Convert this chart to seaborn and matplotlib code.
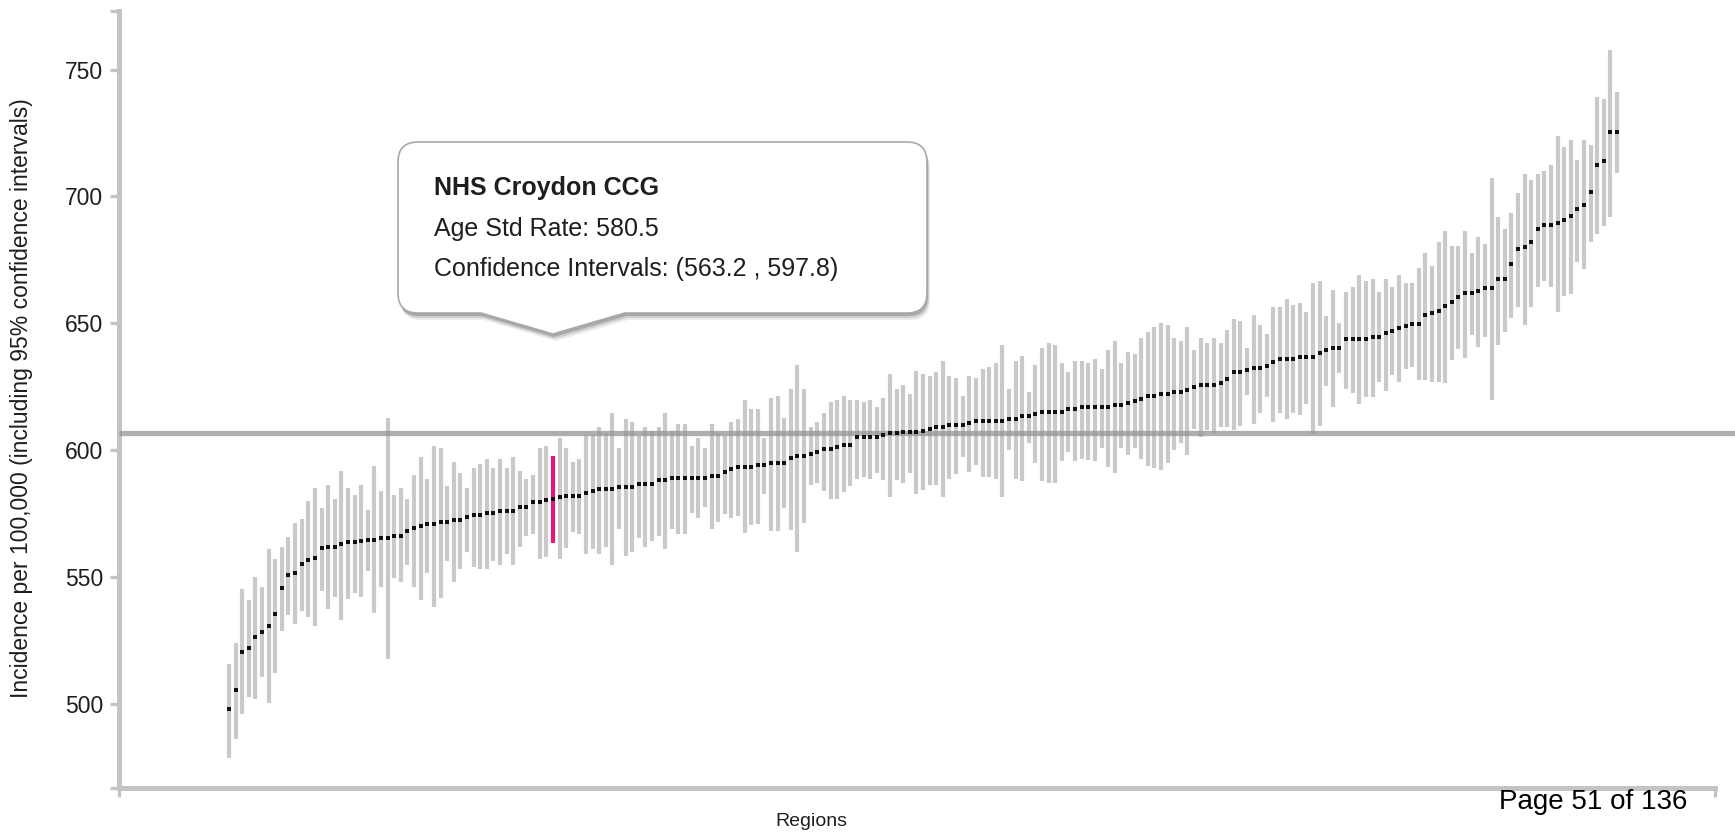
import numpy as np
import pandas as pd
import matplotlib
matplotlib.use("Agg")
import matplotlib.pyplot as plt
import seaborn as sns
from matplotlib.path import Path
from matplotlib.patches import PathPatch

# ---------------- data ----------------
rate = [497.7, 505.5, 520.2, 522.0, 526.4, 528.2, 530.7, 535.2, 545.4, 550.6,
        551.3, 555.0, 556.6, 557.5, 561.2, 561.9, 561.9, 562.9, 563.7, 563.7,
        564.2, 564.5, 564.5, 565.3, 565.3, 566.2, 566.1, 568.1, 569.1, 570.0,
        570.8, 570.8, 571.6, 571.6, 572.5, 572.5, 573.4, 574.3, 574.3, 575.0,
        575.0, 575.9, 575.9, 575.9, 577.6, 577.6, 579.3, 579.3, 580.2, 580.5,
        581.3, 581.9, 581.9, 581.9, 582.9, 583.8, 584.6, 584.6, 584.6, 585.5,
        585.5, 585.5, 586.4, 586.4, 586.4, 588.1, 588.1, 589.1, 589.1, 589.1,
        589.1, 589.1, 589.1, 589.9, 589.9, 591.4, 592.4, 593.4, 593.4, 593.4,
        594.2, 594.2, 595.0, 595.0, 595.0, 596.7, 597.6, 597.6, 598.4, 599.3,
        600.2, 600.2, 601.0, 601.9, 601.9, 605.0, 605.0, 605.0, 605.0, 605.8,
        606.5, 606.5, 607.2, 607.2, 607.2, 607.3, 608.1, 608.9, 608.9, 609.8,
        609.8, 609.8, 610.7, 611.5, 611.5, 611.5, 611.5, 611.5, 612.4, 612.4,
        613.4, 613.4, 614.2, 615.1, 615.1, 615.1, 615.1, 616.0, 616.0, 616.8,
        616.8, 616.8, 616.8, 616.8, 617.6, 617.6, 618.5, 619.4, 620.2, 621.1,
        621.1, 622.0, 622.0, 622.8, 622.8, 623.7, 624.7, 625.6, 625.6, 625.6,
        626.5, 628.1, 630.7, 630.7, 631.5, 632.4, 632.4, 633.2, 634.7, 635.7,
        635.7, 635.7, 636.5, 636.5, 636.5, 638.3, 639.4, 640.2, 640.2, 643.6,
        643.6, 643.6, 643.6, 644.4, 644.4, 646.2, 647.0, 647.9, 648.9, 649.6,
        649.6, 653.3, 654.1, 654.9, 656.6, 658.4, 660.2, 662.0, 662.0, 662.8,
        663.7, 663.7, 667.3, 667.3, 673.3, 679.3, 680.1, 682.0, 687.0, 688.8,
        688.8, 689.6, 690.6, 692.4, 694.9, 696.7, 701.8, 712.3, 714.0, 725.3,
        725.3]
lower = [478.4, 485.9, 495.7, 502.7, 501.6, 510.6, 500.1, 512.2, 528.7, 534.9,
         531.2, 536.6, 534.0, 530.5, 544.4, 537.4, 542.1, 532.9, 541.1, 543.5,
         541.9, 552.1, 535.7, 546.1, 517.4, 549.5, 547.9, 554.7, 545.8, 540.8,
         551.3, 538.2, 541.6, 556.3, 547.9, 552.9, 559.7, 553.7, 552.9, 552.9,
         556.3, 554.7, 558.9, 554.7, 561.6, 566.1, 566.8, 557.2, 557.9, 563.2,
         557.2, 561.2, 567.8, 566.8, 559.0, 560.8, 559.0, 561.9, 554.8, 568.7,
         558.2, 559.9, 565.1, 561.6, 564.2, 566.1, 560.8, 568.7, 566.8, 566.8,
         575.3, 573.0, 577.4, 568.7, 571.7, 574.7, 573.0, 574.0, 567.1, 570.3,
         571.0, 582.5, 567.9, 567.9, 577.2, 568.4, 559.9, 571.3, 586.0, 586.9,
         584.0, 580.6, 580.6, 583.3, 585.8, 588.7, 589.5, 588.7, 591.0, 588.0,
         581.6, 588.0, 587.0, 591.0, 582.5, 584.2, 586.0, 586.0, 581.6, 588.7,
         590.5, 597.3, 591.3, 593.9, 589.4, 589.4, 588.7, 581.6, 599.9, 588.7,
         587.9, 602.6, 594.7, 587.9, 587.1, 587.1, 595.5, 599.2, 595.5, 596.6,
         596.0, 595.5, 600.7, 593.1, 591.0, 600.7, 598.1, 600.7, 596.3, 593.7,
         592.9, 592.1, 594.7, 600.0, 602.6, 598.1, 608.4, 605.2, 607.8, 606.8,
         609.1, 609.0, 608.0, 609.4, 621.5, 610.2, 614.7, 620.7, 611.1, 614.7,
         612.1, 614.7, 613.8, 618.1, 606.3, 609.4, 625.2, 617.0, 630.2, 624.2,
         622.3, 618.1, 620.7, 620.7, 626.8, 623.4, 629.4, 626.8, 632.0, 632.8,
         627.6, 627.6, 626.8, 626.8, 626.3, 635.4, 640.0, 636.1, 645.3, 640.7,
         644.4, 619.9, 641.4, 646.6, 651.9, 656.2, 649.3, 656.5, 664.1, 666.7,
         664.1, 654.5, 660.7, 661.5, 674.3, 671.2, 682.2, 685.1, 688.3, 691.9,
         709.3]
upper = [515.5, 524.0, 545.0, 540.8, 550.0, 545.8, 560.8, 557.1, 561.6, 565.8,
         571.1, 572.9, 579.7, 585.0, 577.1, 586.0, 580.5, 591.8, 585.0, 582.4,
         586.0, 576.3, 593.7, 583.9, 612.7, 582.4, 585.0, 580.8, 590.1, 597.1,
         588.4, 601.4, 600.6, 585.9, 595.3, 591.0, 585.0, 592.7, 594.4, 596.3,
         592.7, 596.3, 592.7, 597.1, 591.8, 588.4, 590.1, 600.6, 601.4, 597.8,
         604.8, 600.6, 595.4, 596.3, 605.9, 605.9, 609.2, 606.6, 614.4, 600.6,
         612.1, 611.0, 605.5, 609.2, 607.5, 609.2, 614.4, 607.5, 610.1, 610.1,
         601.5, 604.8, 600.6, 610.1, 606.6, 605.5, 611.0, 612.1, 619.7, 616.0,
         616.0, 604.7, 620.5, 621.2, 612.8, 623.9, 633.5, 623.9, 609.2, 611.0,
         614.4, 618.8, 619.7, 621.2, 619.7, 619.7, 618.8, 619.7, 617.0, 620.5,
         630.0, 623.9, 625.6, 622.2, 631.0, 629.9, 629.1, 630.9, 635.2, 629.1,
         628.2, 621.2, 629.1, 628.2, 632.0, 632.8, 634.4, 641.2, 623.9, 635.2,
         637.0, 623.0, 633.5, 640.4, 642.0, 641.2, 634.4, 630.9, 635.2, 635.2,
         634.4, 636.0, 631.9, 639.6, 643.1, 634.4, 638.7, 637.8, 644.1, 646.6,
         648.3, 650.0, 649.1, 644.1, 643.1, 648.3, 639.6, 644.1, 642.0, 644.1,
         642.0, 647.5, 651.7, 650.9, 640.4, 653.4, 649.1, 645.7, 656.2, 656.2,
         659.6, 657.1, 658.1, 654.4, 665.7, 666.5, 652.8, 663.1, 650.2, 662.3,
         664.1, 669.1, 666.5, 667.3, 662.3, 667.3, 664.1, 669.1, 665.7, 665.7,
         671.7, 677.8, 672.5, 682.0, 686.4, 680.4, 680.4, 686.4, 677.8, 684.1,
         681.2, 707.3, 691.7, 687.2, 693.5, 701.4, 709.0, 706.4, 709.0, 710.1,
         712.3, 723.8, 719.6, 722.2, 714.3, 722.2, 720.2, 739.3, 738.5, 757.7,
         741.2]
highlight_name = "NHS Croydon CCG"
highlight_index = 49
england_mean = 606.8
y_ticks = [500, 550, 600, 650, 700, 750]
y_tick_labels = ["500", "550", "600", "650", "700", "750"]
y_label = "Incidence per 100,000 (including 95% confidence intervals)"
x_label = "Regions"
page_text = "Page 51 of 136"

# ---------------- figure ----------------
W, H = 1735, 832
sns.set_theme(style="white")
plt.rcParams["font.family"] = ["Liberation Sans", "DejaVu Sans"]

fig = plt.figure(figsize=(W / 100, H / 100), dpi=100)


def fx(px):
    return px / W


def fy(py):
    return 1 - py / H


ax_left, ax_right, ax_top, ax_bottom = 119, 1715, 11, 788
ax = fig.add_axes([fx(ax_left), fy(ax_bottom), fx(ax_right) - fx(ax_left), fy(ax_top) - fy(ax_bottom)])

df = pd.DataFrame({"idx": np.arange(len(rate)), "rate": rate, "lower": lower, "upper": upper})
df["hl"] = df["idx"] == highlight_index

x0 = (ax_left - 229) / 6.61
x1 = (ax_right - 229) / 6.61
y0, y1 = 466.7, 773.1
ax.set_xlim(x0, x1)
ax.set_ylim(y0, y1)

norm = df[~df["hl"]]
hl = df[df["hl"]]
ax.vlines(norm["idx"], norm["lower"], norm["upper"], color="#c9c9c9", lw=3.0, zorder=2, capstyle="butt")
ax.vlines(hl["idx"], hl["lower"], hl["upper"], color="#e3167f", lw=3.0, zorder=3, capstyle="butt")

# England mean line (extends to right edge of the picture)
ext = (W - ax_left) / (ax_right - ax_left)
ax.plot([0, ext], [england_mean, england_mean], transform=ax.get_yaxis_transform(),
        color="#939393", alpha=0.75, lw=3.8, zorder=4, clip_on=False, solid_capstyle="butt")

sns.scatterplot(data=df, x="idx", y="rate", marker="s", s=10, color="#111111",
                linewidth=0, ax=ax, zorder=5, legend=False)

# axes styling (D3-like)
axis_col = "#c4c4c4"
for side in ["top", "right"]:
    ax.spines[side].set_visible(False)
for side in ["left", "bottom"]:
    ax.spines[side].set_color(axis_col)
    ax.spines[side].set_linewidth(3.6)

ax.set_yticks([y0] + y_ticks + [y1])
ax.set_yticklabels([""] + y_tick_labels + [""])
ax.set_xticks([x0, x1])
ax.set_xticklabels(["", ""])
ax.tick_params(axis="both", which="major", left=True, bottom=True, direction="out",
               length=6.5, width=2.4, color=axis_col,
               labelsize=16.5, labelcolor="#1e1e1e", pad=5)
ax.set_xlabel("")
ax.set_ylabel("")
ax.grid(False)

fig.text(fx(22), fy(398), y_label, rotation=90, ha="center", va="center",
         fontsize=16.5, color="#1e1e1e")
fig.text(fx(811), fy(822), x_label, ha="center", va="center", fontsize=14, color="#1e1e1e")
fig.text(fx(1687), fy(802), page_text, ha="right", va="center", fontsize=20, color="black")

# ---------------- tooltip ----------------
apex_x = ax.transData.transform((highlight_index, 0))[0]  # display px
L, R, T, B, r = 398, 927, 142, 313, 20
bl, br, apexY = apex_x - 72, apex_x + 72, 334


def tooltip_path(dx=0, dy=0):
    pts = [
        (L + r, T), (R - r, T), (R, T), (R, T + r), (R, B - r), (R, B), (R - r, B),
        (br, B), (apex_x, apexY), (bl, B), (L + r, B), (L, B), (L, B - r),
        (L, T + r), (L, T), (L + r, T), (L + r, T),
    ]
    codes = [Path.MOVETO, Path.LINETO, Path.CURVE3, Path.CURVE3, Path.LINETO, Path.CURVE3, Path.CURVE3,
             Path.LINETO, Path.LINETO, Path.LINETO, Path.LINETO, Path.CURVE3, Path.CURVE3,
             Path.LINETO, Path.CURVE3, Path.CURVE3, Path.CLOSEPOLY]
    verts = [(fx(px + dx), fy(py + dy)) for px, py in pts]
    return Path(verts, codes)


for (dx, dy, a) in [(3, 7, 0.08), (2, 5, 0.12), (1, 3, 0.18)]:
    fig.add_artist(PathPatch(tooltip_path(dx, dy), transform=fig.transFigure,
                             fc="black", ec="none", alpha=a, zorder=10))
fig.add_artist(PathPatch(tooltip_path(), transform=fig.transFigure,
                         fc="white", ec="#a9a9a9", lw=1.2, zorder=11))

r_hl = rate[highlight_index]
lo_hl = lower[highlight_index]
up_hl = upper[highlight_index]
fig.text(fx(434), fy(188), highlight_name, fontsize=18, fontweight="bold",
         color="#1e1e1e", va="center", ha="left", zorder=12)
fig.text(fx(434), fy(229), f"Age Std Rate: {r_hl}", fontsize=18,
         color="#1e1e1e", va="center", ha="left", zorder=12)
fig.text(fx(434), fy(269), f"Confidence Intervals: ({lo_hl} , {up_hl})", fontsize=18,
         color="#1e1e1e", va="center", ha="left", zorder=12)

fig.savefig("out.png", dpi=100)
